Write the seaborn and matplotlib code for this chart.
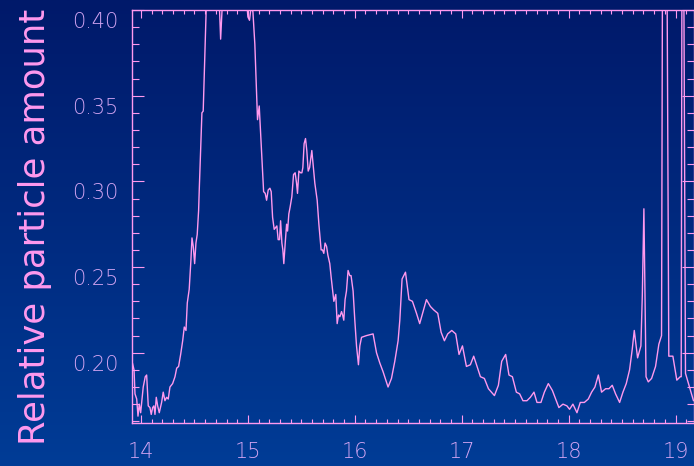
import numpy as np
import matplotlib
matplotlib.use("Agg")
import matplotlib.pyplot as plt
import matplotlib.transforms as mtransforms
from matplotlib.colors import LinearSegmentedColormap
from matplotlib.ticker import MultipleLocator
import seaborn as sns

# elution time (x) and relative particle amount (y)
time = [
    13.92, 13.935, 13.944, 13.960, 13.972, 13.984, 13.997, 14.021, 14.040, 14.053,
    14.068, 14.084, 14.096, 14.109, 14.121, 14.131, 14.143, 14.156, 14.171, 14.193,
    14.208, 14.224, 14.240, 14.255, 14.271, 14.296, 14.318, 14.334, 14.352, 14.371,
    14.390, 14.405, 14.421, 14.433, 14.451, 14.467, 14.477, 14.489, 14.502, 14.514,
    14.526, 14.539, 14.545, 14.558, 14.570, 14.582, 14.598, 14.612, 14.65, 14.70,
    14.729, 14.745, 14.762, 14.80, 14.85, 14.90, 14.95, 14.981, 15.000, 15.015,
    15.030, 15.047, 15.065, 15.081, 15.090, 15.106, 15.119, 15.134, 15.147, 15.162,
    15.175, 15.190, 15.206, 15.218, 15.231, 15.246, 15.259, 15.271, 15.283, 15.296,
    15.306, 15.318, 15.327, 15.336, 15.349, 15.362, 15.371, 15.383, 15.395, 15.411,
    15.427, 15.442, 15.455, 15.464, 15.477, 15.493, 15.505, 15.514, 15.526, 15.539,
    15.551, 15.564, 15.577, 15.589, 15.598, 15.610, 15.626, 15.648, 15.664, 15.676,
    15.685, 15.698, 15.710, 15.722, 15.736, 15.748, 15.766, 15.779, 15.792, 15.804,
    15.822, 15.835, 15.848, 15.860, 15.876, 15.886, 15.897, 15.909, 15.922, 15.937,
    15.953, 15.965, 15.984, 16.000, 16.016, 16.034, 16.047, 16.063, 16.109, 16.171,
    16.203, 16.234, 16.264, 16.311, 16.343, 16.374, 16.405, 16.421, 16.442, 16.474,
    16.507, 16.539, 16.577, 16.607, 16.638, 16.670, 16.707, 16.738, 16.776, 16.807,
    16.838, 16.869, 16.907, 16.944, 16.975, 17.007, 17.044, 17.081, 17.112, 17.143,
    17.175, 17.212, 17.250, 17.306, 17.343, 17.374, 17.411, 17.442, 17.474, 17.511,
    17.542, 17.573, 17.610, 17.642, 17.676, 17.704, 17.741, 17.773, 17.810, 17.848,
    17.909, 17.947, 17.984, 18.009, 18.040, 18.078, 18.109, 18.147, 18.184, 18.215,
    18.246, 18.278, 18.308, 18.346, 18.377, 18.408, 18.439, 18.477, 18.508, 18.539,
    18.570, 18.595, 18.614, 18.645, 18.676, 18.689, 18.704, 18.724, 18.745, 18.776,
    18.813, 18.844, 18.869, 18.881, 18.907, 18.937, 18.975, 19.012, 19.044, 19.053,
    19.065, 19.093, 19.131, 19.168,
]
amount = [
    0.194, 0.190, 0.176, 0.173, 0.163, 0.170, 0.165, 0.180, 0.186, 0.187,
    0.169, 0.168, 0.164, 0.168, 0.169, 0.164, 0.174, 0.169, 0.165, 0.171,
    0.177, 0.172, 0.174, 0.173, 0.180, 0.182, 0.186, 0.191, 0.192, 0.199,
    0.207, 0.215, 0.213, 0.229, 0.237, 0.254, 0.267, 0.262, 0.252, 0.264,
    0.269, 0.283, 0.295, 0.318, 0.340, 0.341, 0.376, 0.405, 0.430, 0.440,
    0.410, 0.383, 0.405, 0.430, 0.450, 0.440, 0.420, 0.410, 0.396, 0.394,
    0.402, 0.399, 0.380, 0.351, 0.336, 0.344, 0.328, 0.310, 0.294, 0.293,
    0.289, 0.295, 0.296, 0.294, 0.279, 0.272, 0.273, 0.274, 0.266, 0.266,
    0.277, 0.264, 0.260, 0.252, 0.264, 0.275, 0.271, 0.281, 0.285, 0.291,
    0.304, 0.305, 0.299, 0.293, 0.306, 0.305, 0.305, 0.308, 0.322, 0.325,
    0.318, 0.306, 0.308, 0.314, 0.318, 0.310, 0.299, 0.289, 0.275, 0.266,
    0.260, 0.260, 0.258, 0.264, 0.262, 0.257, 0.252, 0.244, 0.237, 0.230,
    0.234, 0.217, 0.222, 0.221, 0.224, 0.222, 0.219, 0.231, 0.236, 0.248,
    0.245, 0.245, 0.236, 0.219, 0.204, 0.193, 0.204, 0.209, 0.210, 0.211,
    0.200, 0.194, 0.189, 0.180, 0.185, 0.195, 0.207, 0.219, 0.243, 0.247,
    0.231, 0.230, 0.223, 0.217, 0.224, 0.231, 0.227, 0.225, 0.223, 0.212,
    0.207, 0.211, 0.213, 0.211, 0.199, 0.204, 0.192, 0.193, 0.198, 0.192,
    0.186, 0.185, 0.179, 0.175, 0.181, 0.195, 0.199, 0.187, 0.186, 0.177,
    0.176, 0.172, 0.172, 0.174, 0.177, 0.171, 0.171, 0.177, 0.182, 0.178,
    0.168, 0.170, 0.169, 0.167, 0.170, 0.165, 0.171, 0.171, 0.173, 0.177,
    0.180, 0.187, 0.177, 0.179, 0.179, 0.181, 0.176, 0.171, 0.177, 0.182,
    0.190, 0.202, 0.213, 0.197, 0.204, 0.233, 0.284, 0.186, 0.183, 0.185,
    0.192, 0.205, 0.210, 0.500, 0.600, 0.198, 0.198, 0.184, 0.186, 0.186,
    0.600, 0.188, 0.180, 0.172,
]

pink = "#ff99ee"
lavender = "#d2a4f2"

sns.set_style("ticks")
plt.rcParams['font.family'] = ['DejaVu Sans']

fig = plt.figure(figsize=(6.94, 4.66), dpi=100)

# dark blue vertical gradient behind everything
bg = fig.add_axes([0, 0, 1, 1], zorder=-10)
grad = np.linspace(0, 1, 256).reshape(-1, 1)
cmap = LinearSegmentedColormap.from_list("bluebg", ["#00196a", "#003c96"])
bg.imshow(grad, aspect="auto", cmap=cmap, extent=[0, 1, 0, 1], origin="upper")
bg.axis("off")

ax = fig.add_axes([132 / 694, 1 - 423 / 466, 561.5 / 694, 413 / 466])
ax.set_facecolor("none")

sns.lineplot(x=time, y=amount, ax=ax, color=pink, lw=1.0,
             sort=False, estimator=None)

ax.set_xlim(13.916, 19.168)
ax.set_ylim(0.159, 0.4)

ax.xaxis.set_major_locator(MultipleLocator(1))
ax.xaxis.set_minor_locator(MultipleLocator(0.1))
ax.yaxis.set_major_locator(MultipleLocator(0.05))
ax.yaxis.set_minor_locator(MultipleLocator(0.01))
ax.yaxis.set_major_formatter(matplotlib.ticker.FormatStrFormatter("%.2f"))

for s in ax.spines.values():
    s.set_visible(True)
    s.set_color(pink)
    s.set_linewidth(1.0)

ax.tick_params(axis="both", which="both", direction="in", color=pink,
               top=True, right=True, width=0.8, labelsize=15,
               labelcolor=lavender)
ax.tick_params(axis="x", which="major", length=5.5, pad=14)
ax.tick_params(axis="x", which="minor", length=3)
ax.tick_params(axis="y", which="major", length=8.5, pad=10)
ax.tick_params(axis="y", which="minor", length=4.8)

# thin digits, y tick labels sit a little below their ticks
offset = mtransforms.ScaledTranslation(0, -10 / 100, fig.dpi_scale_trans)
for lab in ax.get_yticklabels():
    lab.set_transform(lab.get_transform() + offset)
    lab.set_fontweight("light")
for lab in ax.get_xticklabels():
    lab.set_fontweight("light")

ax.set_xlabel("")
ax.set_ylabel("Relative particle amount", fontsize=25.5, color=pink)
ax.yaxis.label.set_va("center")
ax.yaxis.set_label_coords(-0.172, 0.476)

fig.savefig("out.png", dpi=100)
